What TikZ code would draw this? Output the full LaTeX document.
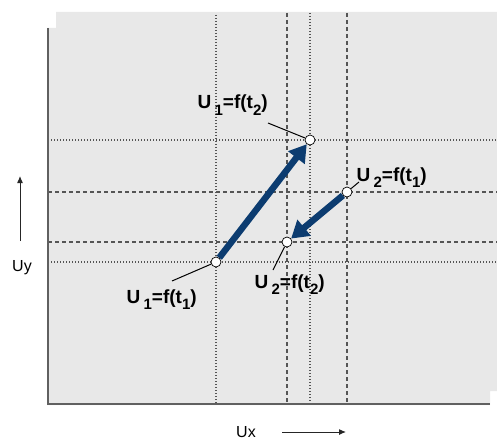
\documentclass[tikz,border=0pt]{standalone}
\usepackage{fontspec}
\setmainfont{Liberation Sans}
\usetikzlibrary{arrows.meta}
\definecolor{bgc}{RGB}{232,232,232}
\definecolor{axisc}{RGB}{96,96,96}
\definecolor{gridc}{RGB}{85,85,85}
\definecolor{navyc}{RGB}{12,60,112}
\newcommand{\lsub}[1]{\raisebox{-6pt}{\fontsize{15}{15}\selectfont #1}}
\begin{document}
\begin{tikzpicture}[x=1pt,y=-1pt,
  gdot/.style={gridc, line width=1.1pt, dash pattern=on 1.1pt off 1.9pt},
  gdash/.style={gridc, line width=1.1pt, dash pattern=on 4pt off 3pt},
  ptc/.style={circle, draw=black, fill=white, line width=0.7pt, minimum size=10pt, inner sep=0pt},
  lbl/.style={font=\fontsize{19}{19}\selectfont\bfseries, inner sep=0pt, anchor=base west},
  axlbl/.style={font=\fontsize{16}{16}\selectfont, inner sep=0pt},
  bigarrow/.style={navyc, line width=6.5pt, -{Triangle[length=17pt,width=20pt]}},
  leader/.style={black, line width=1pt},
  axarrow/.style={black!85, line width=1pt, -{Latex[length=7pt,width=6pt]}}
]
\useasboundingbox (0,0) rectangle (497,441);
% background
\fill[bgc] (47,28) -- (47,405) -- (490,405) -- (490,391) -- (497,391) -- (497,12) -- (56,12) -- (56,28) -- cycle;
% grid lines
\draw[gdot] (216,15) -- (216,404);
\draw[gdash] (287,13) -- (287,404);
\draw[gdot] (310,13) -- (310,404);
\draw[gdash] (347,13) -- (347,404);
\draw[gdot] (48,140) -- (497,140);
\draw[gdash] (48,192) -- (497,192);
\draw[gdash] (48,242) -- (497,242);
\draw[gdot] (48,262) -- (497,262);
% axes
\draw[axisc, line width=2pt] (48,28) -- (48,404) -- (490,404);
% points
\node[ptc] (p11) at (216,262) {};
\node[ptc] (p12) at (310,140) {};
\node[ptc] (p21) at (347,192) {};
\node[ptc] (p22) at (287,242) {};
% arrows
\draw[bigarrow] (p11) -- (p12);
\draw[bigarrow] (p21) -- (p22);
% labels
\node[lbl] (l12) at (197.5,109) {U\,\lsub{1}=f(t\lsub{2})};
\node[lbl] (l21) at (356.5,181) {U\,\lsub{2}=f(t\lsub{1})};
\node[lbl] (l22) at (254.5,288) {U\,\lsub{2}=f(t\lsub{2})};
\node[lbl] (l11) at (126.5,303) {U\,\lsub{1}=f(t\lsub{1})};
% leader lines
\coordinate (c12) at (268,123);
\coordinate (c21) at (359,182);
\coordinate (c22) at (273,270);
\coordinate (c11) at (172,281);
\draw[leader] (c12) -- (p12);
\draw[leader] (c21) -- (p21);
\draw[leader] (c22) -- (p22);
\draw[leader] (c11) -- (p11);
% axis labels
\node[axlbl] (ux) at (246,432) {Ux};
\node[axlbl] (uy) at (22,268) {Uy};
\coordinate (uxa) at (282,432);
\coordinate (uxb) at (346,432);
\coordinate (uya) at (20,241);
\coordinate (uyb) at (20,176);
\draw[axarrow] (uxa) -- (uxb);
\draw[axarrow] (uya) -- (uyb);
\end{tikzpicture}
\end{document}
